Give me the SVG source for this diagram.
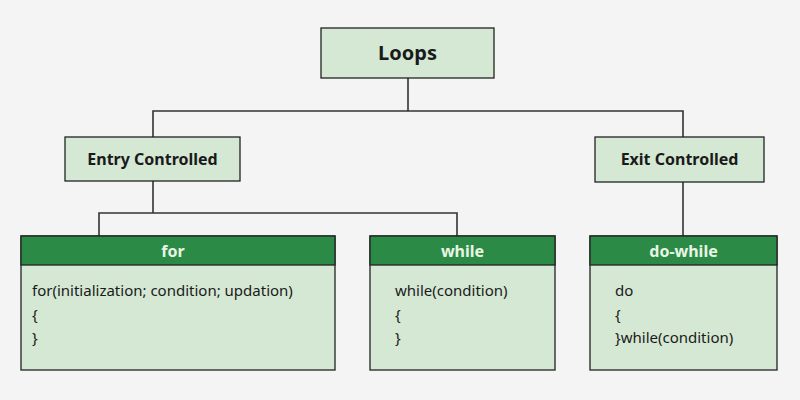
<svg xmlns="http://www.w3.org/2000/svg" width="800" height="400" viewBox="0 0 800 400">
<style>
.box{fill:#d5e8d4;stroke:#222;stroke-width:1.3}
.hdr{fill:#2b8a46;stroke:#222;stroke-width:1.3}
.t{font-family:"Noto Sans",sans-serif;fill:#1a1a1a}
.b{font-weight:bold}
.h{font-family:"Noto Sans",sans-serif;fill:#e8f5e4;font-weight:bold;font-size:16px;text-anchor:middle}
.c{fill:none;stroke:#333;stroke-width:1.6}
</style>
<rect width="800" height="400" fill="#f4f4f4"/>
<g id="connectors" class="c">
<path d="M408 78V111M153 137V111H683V137"/>
<path d="M153 181V213M99 236V213H457V236"/>
<path d="M683 182V236"/>
</g>
<g id="loops"><rect class="box" x="321" y="28" width="173" height="50"/><text class="t b" x="407.5" y="60" font-size="20" text-anchor="middle">Loops</text></g>
<g id="entry"><rect class="box" x="65" y="137" width="175" height="44"/><text class="t b" x="152.5" y="165" font-size="16" text-anchor="middle">Entry Controlled</text></g>
<g id="exit"><rect class="box" x="595" y="137" width="169" height="45"/><text class="t b" x="679.5" y="165" font-size="16" text-anchor="middle">Exit Controlled</text></g>
<g id="for"><rect class="box" x="21" y="236" width="314" height="134"/><rect class="hdr" x="21" y="236" width="314" height="29"/><text class="h" x="173" y="257">for</text>
<text class="t" font-size="15"><tspan x="32" y="296">for(initialization; condition; updation)</tspan><tspan x="32" y="320">{</tspan><tspan x="32" y="343">}</tspan></text></g>
<g id="while"><rect class="box" x="370" y="236" width="185" height="134"/><rect class="hdr" x="370" y="236" width="185" height="29"/><text class="h" x="462.5" y="257">while</text>
<text class="t" font-size="15"><tspan x="395" y="296">while(condition)</tspan><tspan x="395" y="320">{</tspan><tspan x="395" y="343">}</tspan></text></g>
<g id="dowhile"><rect class="box" x="590" y="236" width="187" height="134"/><rect class="hdr" x="590" y="236" width="187" height="29"/><text class="h" x="683.5" y="257">do-while</text>
<text class="t" font-size="15"><tspan x="615" y="296">do</tspan><tspan x="615" y="320">{</tspan><tspan x="615" y="343">}while(condition)</tspan></text></g>
</svg>
